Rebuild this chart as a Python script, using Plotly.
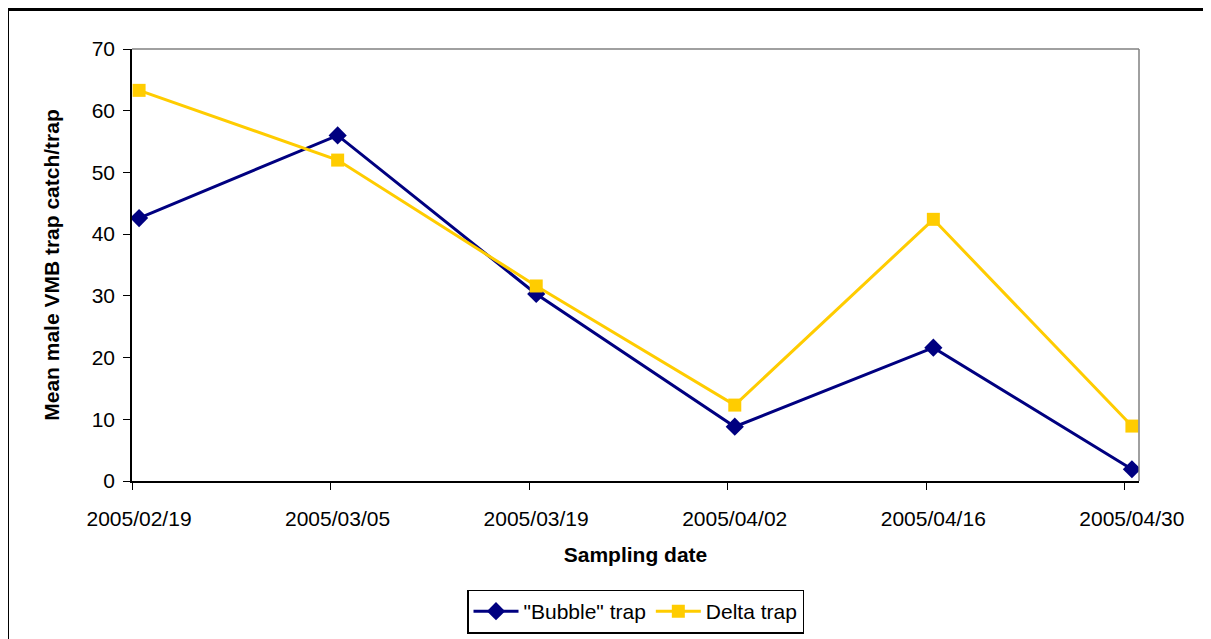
import pandas as pd
import plotly.graph_objects as go

sampling_dates = ["2005-02-19", "2005-03-05", "2005-03-19", "2005-04-02", "2005-04-16", "2005-04-30"]
bubble_trap = [42.6, 56.0, 30.3, 8.8, 21.6, 1.9]
delta_trap = [63.3, 52.0, 31.6, 12.3, 42.4, 8.9]
series_names = ['"Bubble" trap', "Delta trap"]

# Excel date axis "between dates": each point sits in the middle of its day
x_pts = pd.to_datetime(sampling_dates) + pd.Timedelta(hours=12)

FONT = "Liberation Sans, Arial, sans-serif"
OFF = 8  # page body margin in the browser
W, H = 1211 - OFF, 639 - OFF
# target plot-area pixel bounds in the window
L, R, T, B = 132, 1139, 49, 481
pw, ph = R - L, B - T

fig = go.Figure()
fig.add_trace(go.Scatter(
    x=x_pts, y=bubble_trap, name=series_names[0], mode="lines+markers",
    line=dict(color="#000080", width=3),
    marker=dict(symbol="diamond", size=14, color="#000080"),
))
fig.add_trace(go.Scatter(
    x=x_pts, y=delta_trap, name=series_names[1], mode="lines+markers",
    line=dict(color="#FFCC00", width=3),
    marker=dict(symbol="square", size=13, color="#FFCC00"),
))

def px_x(p):
    return (p - L) / pw

def px_y(p):
    return (B - p) / ph

shapes = [
    dict(type="line", xref="paper", yref="paper", x0=0, x1=1, y0=1, y1=1,
         line=dict(color="#808080", width=1.5)),
    dict(type="line", xref="paper", yref="paper", x0=1, x1=1, y0=0, y1=1,
         line=dict(color="#808080", width=1.5)),
    dict(type="line", xref="paper", yref="paper", x0=px_x(7.5), x1=px_x(7.5),
         y0=px_y(8), y1=px_y(660), line=dict(color="black", width=3)),
    dict(type="line", xref="paper", yref="paper", x0=px_x(6), x1=px_x(1230),
         y0=px_y(9.5), y1=px_y(9.5), line=dict(color="black", width=3)),
]

fig.update_layout(
    width=W, height=H,
    margin=dict(l=L - OFF, r=1211 - R, t=T - OFF, b=639 - B, autoexpand=False),
    paper_bgcolor="white", plot_bgcolor="white",
    font=dict(family=FONT, size=21, color="black"),
    showlegend=True,
    legend=dict(
        orientation="h", x=0.5, xanchor="center", y=px_y(611.5), yanchor="middle",
        bordercolor="black", borderwidth=1.5, bgcolor="white",
        font=dict(family=FONT, size=21), itemwidth=45,
        tracegroupgap=0,
    ),
    shapes=shapes,
    xaxis=dict(
        type="date", automargin=False,
        range=["2005-02-19", "2005-05-01"],
        tickvals=sampling_dates,
        tickformat="%Y/%m/%d",
        ticks="outside", ticklen=7, tickcolor="black", tickwidth=1,
        ticklabelshift=7, ticklabelstandoff=11,
        showline=True, linecolor="black", linewidth=1.5,
        showgrid=False, zeroline=False,
        tickfont=dict(family=FONT, size=21),
        title=dict(text="<b>Sampling date</b>", font=dict(family=FONT, size=21), standoff=18),
    ),
    yaxis=dict(
        automargin=False,
        range=[0, 70], tick0=0, dtick=10,
        ticks="outside", ticklen=7, tickcolor="black", tickwidth=1,
        ticklabelstandoff=4,
        showline=True, linecolor="black", linewidth=1.5,
        showgrid=False, zeroline=False,
        tickfont=dict(family=FONT, size=21),
        title=dict(text="<b>Mean male VMB trap catch/trap</b>", font=dict(family=FONT, size=21), standoff=26),
    ),
)

fig.write_html("out.html")
